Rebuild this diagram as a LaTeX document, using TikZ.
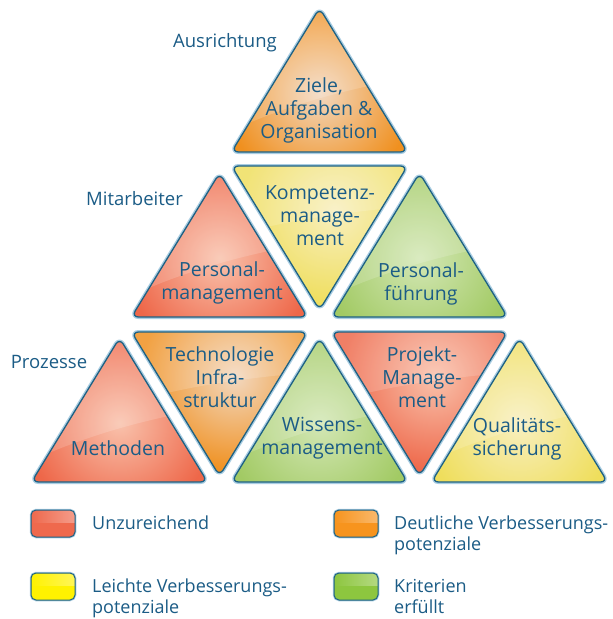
\documentclass[tikz,border=0pt]{standalone}
\usepackage{fontspec}
\setmainfont{Open Sans}
\definecolor{txtblue}{HTML}{1B5C86}
\definecolor{borderdark}{HTML}{1D6184}
\definecolor{borderglow}{HTML}{A9CDE2}
\definecolor{redb}{HTML}{EE6749}
\definecolor{redl}{HTML}{F9C2AC}
\definecolor{orab}{HTML}{F0901F}
\definecolor{oral}{HTML}{F2D8C0}
\definecolor{yelb}{HTML}{EFDE5C}
\definecolor{yell}{HTML}{F8EFBF}
\definecolor{greb}{HTML}{A2CA64}
\definecolor{grel}{HTML}{D3E7B5}
\definecolor{legred}{HTML}{EF694D}
\definecolor{legora}{HTML}{F7941E}
\definecolor{legyel}{HTML}{FFF200}
\definecolor{leggre}{HTML}{8DC63F}
\newcommand{\trifont}{\fontsize{19.5}{23}\selectfont}
\newcommand{\legfont}{\fontsize{18}{20.5}\selectfont}
\newcommand{\sidefont}{\fontsize{18.5}{22}\selectfont}
\tikzset{
  tribord/.style={draw=borderdark, line width=1.3pt, rounded corners=7pt, line join=round},
  triglow/.style={draw=borderglow, line width=4pt, rounded corners=7pt, line join=round},
  txt/.style={text=txtblue, font=\trifont, align=center, inner sep=0pt},
  lbl/.style={text=txtblue, font=\legfont, align=left, inner sep=0pt},
  side/.style={text=txtblue, font=\sidefont, inner sep=0pt},
}
\newcommand{\uptri}[4]{%
  \pgfmathsetmacro{\xl}{#1-88}\pgfmathsetmacro{\xr}{#1+88}\pgfmathsetmacro{\yb}{#2+144}%
  \path[triglow] (#1,#2) -- (\xr,\yb) -- (\xl,\yb) -- cycle;
  \begin{scope}
    \clip[rounded corners=7pt] (#1,#2) -- (\xr,\yb) -- (\xl,\yb) -- cycle;
    \fill[#3] (\xl,#2) rectangle (\xr,\yb);
    \shade[inner color=#4, outer color=#3] (#1,#2+85) circle (95pt);
    \fill[white, opacity=.16] (\xl-5,#2+125) .. controls (#1-30,#2+95) and (#1+40,#2+78) .. (\xr+5,#2+70) -- (\xr+5,#2-5) -- (\xl-5,#2-5) -- cycle;
  \end{scope}
  \path[tribord] (#1,#2) -- (\xr,\yb) -- (\xl,\yb) -- cycle;
}
\newcommand{\dntri}[4]{%
  \pgfmathsetmacro{\xl}{#1-88}\pgfmathsetmacro{\xr}{#1+88}\pgfmathsetmacro{\yb}{#2+144}%
  \path[triglow] (\xl,#2) -- (\xr,#2) -- (#1,\yb) -- cycle;
  \begin{scope}
    \clip[rounded corners=7pt] (\xl,#2) -- (\xr,#2) -- (#1,\yb) -- cycle;
    \fill[#3] (\xl,#2) rectangle (\xr,\yb);
    \shade[inner color=#4, outer color=#3] (#1+15,#2+45) circle (95pt);
    \fill[white, opacity=.16] (\xl-5,#2+72) .. controls (#1-30,#2+52) and (#1+40,#2+45) .. (\xr+5,#2+40) -- (\xr+5,#2-5) -- (\xl-5,#2-5) -- cycle;
  \end{scope}
  \path[tribord] (\xl,#2) -- (\xr,#2) -- (#1,\yb) -- cycle;
}
\newcommand{\legbox}[3]{%
  \path[draw=borderglow, line width=2.5pt, rounded corners=5pt] (#1,#2) rectangle ++(44,27);
  \fill[#3, rounded corners=5pt] (#1,#2) rectangle ++(44,27);
  \begin{scope}
    \clip[rounded corners=5pt] (#1,#2) rectangle ++(44,27);
    \shade[left color=#3, right color=white, opacity=.35] (#1,#2) rectangle ++(44,12);
  \end{scope}
  \path[draw=borderdark, line width=1pt, rounded corners=5pt] (#1,#2) rectangle ++(44,27);
}
\begin{document}
\begin{tikzpicture}[x=1pt,y=-1pt]
\useasboundingbox[fill=white] (0,0) rectangle (613,619);
% row 1
\uptri{319.5}{8}{orab}{oral}
% row 2
\uptri{219.5}{173}{redb}{redl}
\dntri{319.5}{166}{yelb}{yell}
\uptri{419.5}{173}{greb}{grel}
% row 3
\uptri{119.5}{338}{redb}{redl}
\dntri{219.5}{332}{orab}{oral}
\uptri{319.5}{338}{greb}{grel}
\dntri{419.5}{332}{redb}{redl}
\uptri{519.5}{338}{yelb}{yell}
% texts (anchor base = last line)
\node[txt, anchor=base] (ziele) at (319,138) {Ziele,\\Aufgaben \&\\Organisation};
\node[txt, anchor=base] (kompetenz) at (320,245) {Kompetenz-\\manage-\\ment};
\node[txt, anchor=base] (persman) at (222,299) {Personal-\\management};
\node[txt, anchor=base] (persfuehr) at (421,300) {Personal-\\führung};
\node[txt, anchor=base] (methoden) at (118,455) {Methoden};
\node[txt, anchor=base] (techno) at (220,407) {Technologie\\Infra-\\struktur};
\node[txt, anchor=base] (wissen) at (322,454) {Wissens-\\management};
\node[txt, anchor=base] (projekt) at (422,407) {Projekt-\\Manage-\\ment};
\node[txt, anchor=base] (quali) at (517,455) {Qualitäts-\\sicherung};
% side labels
\node[side, anchor=base] (ausr) at (225,47) {Ausrichtung};
\node[side, anchor=base] (mitarb) at (134.5,205) {Mitarbeiter};
\node[side, anchor=base] (proz) at (49,368) {Prozesse};
% legend
\legbox{31}{510}{legred}
\legbox{334}{510}{legora}
\legbox{31}{573}{legyel}
\legbox{334}{573}{leggre}
\node[lbl, anchor=base west] (l1) at (92,529) {Unzureichend};
\node[lbl, anchor=base west] (l2) at (394,550) {Deutliche Verbesserungs-\\potenziale};
\node[lbl, anchor=base west] (l3) at (92,613) {Leichte Verbesserungs-\\potenziale};
\node[lbl, anchor=base west] (l4) at (394,613) {Kriterien\\erfüllt};
\end{tikzpicture}
\end{document}
